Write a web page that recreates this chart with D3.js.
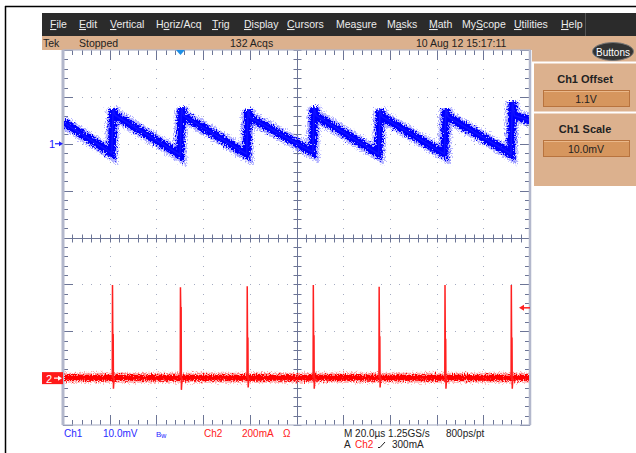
<!DOCTYPE html>
<html lang="en">
<head>
<meta charset="UTF-8">
<title>Scope capture</title>
<script src="https://d3js.org/d3.v7.min.js"></script>
<style>
  body { margin: 0; background: #fff; }
  text { font-family: "Liberation Sans", Arial, sans-serif; }
</style>
</head>
<body>
<div id="scope"></div>
<script>
// ---- data read off the capture ----
// time in µs (20 µs/div, 10 div), ch1 in mV relative to 1.1 V offset, ch2 in mA
var ch1JumpTimes  = [21.1, 50.4, 78.9, 107.2, 135.4, 163.6, 192.1];
var ch1Troughs    = [-2.0, -2.4, -2.2, -1.8, -2.2, -2.2, -2.2];
var ch1Peaks      = [6.1, 6.0, 5.6, 6.0, 5.8, 5.8, 6.0];
var ch1Overshoot  = [7.4, 7.6, 7.2, 7.8, 7.2, 7.4, 9.0];
var ch1StartValue = 4.6;
var ch1EndValue   = 5.0;

var ch2SpikeTimes = [21.2, 50.3, 78.9, 107.2, 135.4, 163.6, 192.0];
var ch2Peaks      = [397, 388, 392, 397, 390, 397, 397];
var ch2Shoulders  = [185, 300, 170, 180, 175, 165, 170];
var ch2Dips       = [-45, -50, -40, -45, -40, -45, -45];
var ch2Baseline   = 2;

var triggerTime  = 50.3;   // µs
var triggerLevel = 300;    // mA

var menuItems   = ["File", "Edit", "Vertical", "Horiz/Acq", "Trig", "Display", "Cursors",
                   "Measure", "Masks", "Math", "MyScope", "Utilities", "Help"];
var menuUnderline = [0, 0, 0, 1, 0, 0, 0, 3, 1, 0, 2, 0, 0];
var statusLabels = ["Tek", "Stopped", "132 Acqs", "10 Aug 12 15:17:11"];
var panelTitles  = ["Ch1 Offset", "Ch1 Scale"];
var panelValues  = ["1.1V", "10.0mV"];

// ---- layout ----
var W = 636, H = 453;
var gx0 = 63, gx1 = 530, gy0 = 50, gy1 = 425;
var tan = "#dcb18e";

var svg = d3.select("#scope").append("svg")
    .attr("width", W).attr("height", H);

var defs = svg.append("defs");
function noiseFilter(id, freq, scale, seed) {
    var f = defs.append("filter").attr("id", id).attr("filterUnits", "userSpaceOnUse")
        .attr("x", gx0 - 10).attr("y", gy0 - 10).attr("width", gx1 - gx0 + 20).attr("height", gy1 - gy0 + 20);
    f.append("feTurbulence").attr("type", "fractalNoise")
        .attr("baseFrequency", freq).attr("numOctaves", 2).attr("seed", seed).attr("result", "t");
    f.append("feDisplacementMap").attr("in", "SourceGraphic").attr("in2", "t")
        .attr("scale", scale).attr("xChannelSelector", "R").attr("yChannelSelector", "G");
}
noiseFilter("noiseB", "0.9 0.7", 9, 3);
noiseFilter("noiseR", "0.9 0.7", 8, 7);

// outer frame
svg.append("line").attr("x1", 5).attr("x2", W).attr("y1", 6.5).attr("y2", 6.5)
    .attr("stroke", "#000").attr("stroke-width", 1.5);
svg.append("line").attr("x1", 5.5).attr("x2", 5.5).attr("y1", 6).attr("y2", H)
    .attr("stroke", "#000").attr("stroke-width", 1.5);

// menu bar
svg.append("rect").attr("x", 42).attr("y", 13).attr("width", W - 42).attr("height", 23).attr("fill", "#2b2b2b");
svg.append("line").attr("x1", 585.5).attr("x2", 585.5).attr("y1", 13).attr("y2", 36).attr("stroke", "#555");
var menuX = [50, 79, 110, 156, 212, 244, 287, 336, 387, 429, 462, 514, 561];
menuItems.forEach(function(m, i) {
    var t = svg.append("text").attr("x", menuX[i]).attr("y", 28)
        .attr("fill", "#ececec").style("font-size", "10.5px");
    var k = menuUnderline[i];
    if (k > 0) t.append("tspan").text(m.slice(0, k));
    t.append("tspan").style("text-decoration", "underline").text(m[k]);
    t.append("tspan").text(m.slice(k + 1));
});

// status bar + right panel
svg.append("rect").attr("x", 42).attr("y", 36).attr("width", W - 42).attr("height", 14).attr("fill", tan);
svg.append("rect").attr("x", 532).attr("y", 36).attr("width", W - 532).attr("height", 150).attr("fill", tan);
var statusX = [43, 79, 230, 416];
statusLabels.forEach(function(s, i) {
    svg.append("text").attr("x", statusX[i]).attr("y", 46.5).attr("fill", "#222")
        .style("font-size", "10.5px").text(s);
});

// Buttons pill
svg.append("ellipse").attr("cx", 613).attr("cy", 51.5).attr("rx", 20.5).attr("ry", 9)
    .attr("fill", "#333").attr("stroke", "#777").attr("stroke-width", 1);
svg.append("text").attr("x", 613).attr("y", 55.5).attr("text-anchor", "middle")
    .attr("fill", "#fff").style("font-size", "10px").text("Buttons");

// panels
var panelTop = [62, 112], panelH = [50, 74];
panelTitles.forEach(function(p, i) {
    var y0 = panelTop[i];
    svg.append("line").attr("x1", 532).attr("x2", W).attr("y1", y0 + 0.5).attr("y2", y0 + 0.5)
        .attr("stroke", "#fff").attr("stroke-width", 2);
    svg.append("line").attr("x1", 533).attr("x2", 533).attr("y1", y0).attr("y2", y0 + panelH[i])
        .attr("stroke", "#fff").attr("stroke-width", 2);
    svg.append("text").attr("x", 585).attr("y", y0 + 21).attr("text-anchor", "middle")
        .attr("fill", "#222").style("font-size", "11px").style("font-weight", "bold").text(p);
    svg.append("rect").attr("x", 543.5).attr("y", y0 + 28.5).attr("width", 86).attr("height", 16)
        .attr("fill", "#d6965e").attr("stroke", "#b8733e");
    svg.append("line").attr("x1", 544).attr("x2", 629).attr("y1", y0 + 29.5).attr("y2", y0 + 29.5)
        .attr("stroke", "#eab88a");
    svg.append("text").attr("x", 586).attr("y", y0 + 41).attr("text-anchor", "middle")
        .attr("fill", "#222").style("font-size", "10.5px").text(panelValues[i]);
});

// ---- scales ----
var x = d3.scaleLinear().domain([0, 200]).range([gx0, gx1]);
var xDiv = d3.scaleLinear().domain([0, 10]).range([gx0, gx1]);
var yDiv = d3.scaleLinear().domain([-4, 4]).range([gy1, gy0]);
var y1 = d3.scaleLinear().domain([-60, 20]).range([gy1, gy0]);      // 10 mV/div, zero 2 div up
var y2 = d3.scaleLinear().domain([-200, 1400]).range([gy1, gy0]);   // 200 mA/div, zero 3 div down

// ---- graticule ----
var grid = svg.append("g");
var tickC = "#6c7596", dotC = "#a4abc2", edgeC = "#b3b8cc";
var minorX = d3.range(0, 10.01, 0.2), minorY = d3.range(-4, 4.01, 0.2);
function isMajor(v) { return Math.abs(v - Math.round(v)) < 1e-6; }

// dotted lines
d3.range(1, 10).filter(function(d) { return d !== 5; }).forEach(function(d) {
    grid.selectAll(null).data(minorY).enter().append("rect")
        .attr("x", Math.round(xDiv(d))).attr("y", function(v) { return Math.round(yDiv(v)); })
        .attr("width", 1).attr("height", 1).attr("fill", dotC);
});
d3.range(-3, 4).filter(function(d) { return d !== 0; }).forEach(function(d) {
    grid.selectAll(null).data(minorX).enter().append("rect")
        .attr("x", function(v) { return Math.round(xDiv(v)); }).attr("y", Math.round(yDiv(d)))
        .attr("width", 1).attr("height", 1).attr("fill", dotC);
});

// centre axes
var cx = Math.round(xDiv(5)) + 0.5, cy = Math.round(yDiv(0)) + 0.5;
grid.append("line").attr("x1", cx).attr("x2", cx).attr("y1", gy0).attr("y2", gy1).attr("stroke", tickC);
grid.append("line").attr("x1", gx0).attr("x2", gx1).attr("y1", cy).attr("y2", cy).attr("stroke", tickC);
grid.selectAll(null).data(minorY).enter().append("line")
    .attr("x1", cx - 4).attr("x2", cx + 4)
    .attr("y1", function(v) { return Math.round(yDiv(v)) + 0.5; })
    .attr("y2", function(v) { return Math.round(yDiv(v)) + 0.5; }).attr("stroke", tickC);
grid.selectAll(null).data(minorX).enter().append("line")
    .attr("y1", cy - 4).attr("y2", cy + 4)
    .attr("x1", function(v) { return Math.round(xDiv(v)) + 0.5; })
    .attr("x2", function(v) { return Math.round(xDiv(v)) + 0.5; }).attr("stroke", tickC);

// edge ticks
grid.selectAll(null).data(minorY).enter().append("line")
    .attr("x1", gx0).attr("x2", function(v) { return gx0 + (isMajor(v) ? 10 : 5); })
    .attr("y1", function(v) { return Math.round(yDiv(v)) + 0.5; })
    .attr("y2", function(v) { return Math.round(yDiv(v)) + 0.5; }).attr("stroke", tickC);
grid.selectAll(null).data(minorY).enter().append("line")
    .attr("x1", gx1).attr("x2", function(v) { return gx1 - (isMajor(v) ? 10 : 5); })
    .attr("y1", function(v) { return Math.round(yDiv(v)) + 0.5; })
    .attr("y2", function(v) { return Math.round(yDiv(v)) + 0.5; }).attr("stroke", tickC);
grid.selectAll(null).data(minorX).enter().append("line")
    .attr("y1", gy0).attr("y2", function(v) { return gy0 + (isMajor(v) ? 10 : 5); })
    .attr("x1", function(v) { return Math.round(xDiv(v)) + 0.5; })
    .attr("x2", function(v) { return Math.round(xDiv(v)) + 0.5; }).attr("stroke", tickC);
grid.selectAll(null).data(minorX).enter().append("line")
    .attr("y1", gy1).attr("y2", function(v) { return gy1 - (isMajor(v) ? 10 : 5); })
    .attr("x1", function(v) { return Math.round(xDiv(v)) + 0.5; })
    .attr("x2", function(v) { return Math.round(xDiv(v)) + 0.5; }).attr("stroke", tickC);

// border
grid.append("rect").attr("x", gx0).attr("y", gy0).attr("width", gx1 - gx0).attr("height", gy1 - gy0)
    .attr("fill", "none").attr("stroke", edgeC).attr("stroke-width", 1.2);
grid.append("line").attr("x1", gx0).attr("x2", gx0).attr("y1", gy0).attr("y2", gy1)
    .attr("stroke", edgeC).attr("stroke-width", 3);
grid.append("line").attr("x1", gx1).attr("x2", gx1).attr("y1", gy0).attr("y2", gy1)
    .attr("stroke", edgeC).attr("stroke-width", 2.5);

// ---- channel 1 trace ----
var ch1Points = [[0, ch1StartValue]];
ch1JumpTimes.forEach(function(t, i) {
    ch1Points.push([t - 0.25, ch1Troughs[i]], [t + 0.35, ch1Overshoot[i]], [t + 1.2, ch1Peaks[i]]);
});
ch1Points.push([200, ch1EndValue]);
var line1 = d3.line().x(function(d) { return x(d[0]); }).y(function(d) { return y1(d[1]); });

var clip = defs.append("clipPath").attr("id", "plotClip");
clip.append("rect").attr("x", gx0 + 1).attr("y", gy0).attr("width", gx1 - gx0 - 2).attr("height", gy1 - gy0);
var traces = svg.append("g").attr("clip-path", "url(#plotClip)");

traces.append("path").attr("d", line1(ch1Points)).attr("fill", "none")
    .attr("stroke", "#6a6aff").attr("stroke-width", 13).attr("stroke-opacity", 0.5)
    .attr("filter", "url(#noiseB)");
traces.append("path").attr("d", line1(ch1Points)).attr("fill", "none")
    .attr("stroke", "#0000ff").attr("stroke-width", 8).attr("filter", "url(#noiseB)");
traces.append("path").attr("d", line1(ch1Points)).attr("fill", "none")
    .attr("stroke", "#1010ff").attr("stroke-width", 1.5);

// ---- channel 2 trace ----
var line2 = d3.line().x(function(d) { return x(d[0]); }).y(function(d) { return y2(d[1]); });
traces.append("path").attr("d", line2([[0, ch2Baseline], [200, ch2Baseline]])).attr("fill", "none")
    .attr("stroke", "#ff6060").attr("stroke-width", 10).attr("stroke-opacity", 0.5)
    .attr("filter", "url(#noiseR)");
traces.append("path").attr("d", line2([[0, ch2Baseline], [200, ch2Baseline]])).attr("fill", "none")
    .attr("stroke", "#ff0000").attr("stroke-width", 6).attr("filter", "url(#noiseR)");

ch2SpikeTimes.forEach(function(t, i) {
    var pts = [[t - 0.1, ch2Baseline], [t, ch2Peaks[i]], [t + 0.12, ch2Shoulders[i]],
               [t + 0.3, ch2Shoulders[i]], [t + 0.4, ch2Dips[i]], [t + 0.7, ch2Baseline]];
    traces.append("path").attr("d", line2(pts)).attr("fill", "none")
        .attr("stroke", "#ff2020").attr("stroke-width", 1.5);
});

// ---- markers ----
var tx = x(triggerTime);
svg.append("path").attr("d", "M" + (tx - 4.5) + "," + gy0 + "L" + (tx + 4.5) + "," + gy0 + "L" + tx + "," + (gy0 + 5) + "Z")
    .attr("fill", "#1e8fe6");

var z1 = y1(0);
svg.append("text").attr("x", 49).attr("y", z1 + 4).attr("fill", "#2020ff").style("font-size", "11px").text("1");
svg.append("line").attr("x1", 55).attr("x2", 61).attr("y1", z1).attr("y2", z1).attr("stroke", "#2020ff").attr("stroke-width", 1.2);
svg.append("path").attr("d", "M59," + (z1 - 2.5) + "L63," + z1 + "L59," + (z1 + 2.5) + "Z").attr("fill", "#2020ff");

var z2 = y2(0);
svg.append("rect").attr("x", 42).attr("y", z2 - 6).attr("width", 21).attr("height", 12).attr("fill", "#ff1a1a");
svg.append("text").attr("x", 46).attr("y", z2 + 4.5).attr("fill", "#fff").style("font-size", "11px").text("2");
svg.append("line").attr("x1", 54).attr("x2", 60).attr("y1", z2).attr("y2", z2).attr("stroke", "#fff").attr("stroke-width", 1.2);
svg.append("path").attr("d", "M58," + (z2 - 2.5) + "L62," + z2 + "L58," + (z2 + 2.5) + "Z").attr("fill", "#fff");

var tl = y2(triggerLevel);
svg.append("line").attr("x1", 523).attr("x2", 530).attr("y1", tl).attr("y2", tl).attr("stroke", "#ff2020").attr("stroke-width", 1.5);
svg.append("path").attr("d", "M524," + (tl - 3) + "L519," + tl + "L524," + (tl + 3) + "Z").attr("fill", "#ff2020");

// ---- readout ----
var blue = "#2a2aff", red = "#ff2020";
var readout = [
    [64, 437, "Ch1", blue], [103, 437, "10.0mV", blue], [204, 437, "Ch2", red],
    [242, 437, "200mA", red], [283, 437, "\u03A9", red],
    [344, 437, "M 20.0\u00B5s 1.25GS/s", "#222"], [446, 437, "800ps/pt", "#222"],
    [344, 448, "A", "#222"], [355, 448, "Ch2", red], [392, 448, "300mA", "#222"]
];
readout.forEach(function(r) {
    svg.append("text").attr("x", r[0]).attr("y", r[1]).attr("fill", r[3])
        .style("font-size", "10px").text(r[2]);
});
var bw = svg.append("text").attr("x", 156).attr("y", 437).attr("fill", blue).style("font-size", "8px");
bw.append("tspan").text("B");
bw.append("tspan").attr("dy", 1).style("font-size", "7px").text("w");
svg.append("line").attr("x1", 380).attr("x2", 385).attr("y1", 447.5).attr("y2", 442)
    .attr("stroke", "#222").attr("stroke-width", 1);
svg.append("line").attr("x1", 378).attr("x2", 380).attr("y1", 447.5).attr("y2", 447.5)
    .attr("stroke", "#222").attr("stroke-width", 1);
</script>
</body>
</html>
